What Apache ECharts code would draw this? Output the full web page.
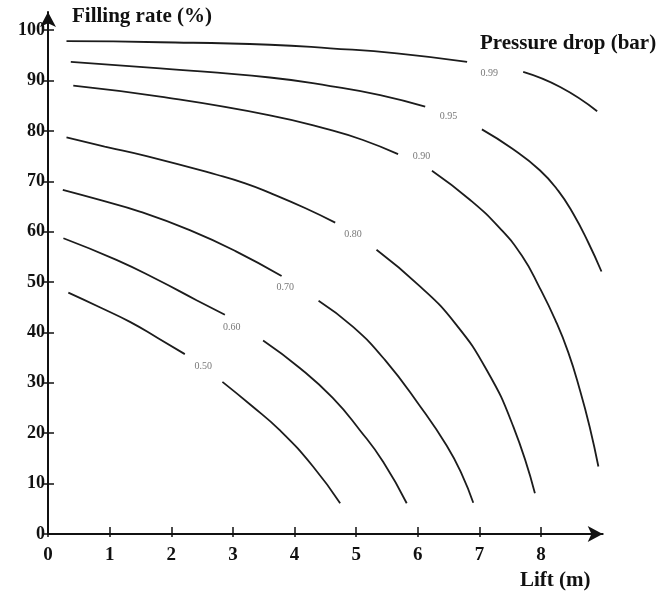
<!DOCTYPE html>
<html>
<head>
<meta charset="utf-8">
<script src="https://cdn.jsdelivr.net/npm/echarts@6/dist/echarts.min.js"></script>
<style>html,body{margin:0;padding:0;background:#fff}#c{width:656px;height:592px}</style>
</head>
<body>
<div id="c"></div>
<script>
// Tick labels
const xTicks = [0, 1, 2, 3, 4, 5, 6, 7, 8];
const yTicks = [0, 10, 20, 30, 40, 50, 60, 70, 80, 90, 100];

// Contour lines (Lift m, Filling rate %), split where the label sits
const c099a = [[0.30,97.8],[1.82,97.6],[3.60,97.1],[4.58,96.4],[5.66,95.4],[6.80,93.7]];
const c099b = [[7.71,91.7],[8.31,88.7],[8.91,83.9]];
const c095a = [[0.37,93.7],[1.82,92.4],[3.60,90.6],[4.58,88.9],[5.39,87.1],[6.12,84.8]];
const c095b = [[7.04,80.3],[7.53,76.5],[7.98,72.2],[8.28,68.1],[8.52,63.6],[8.76,58.0],[8.98,52.1]];
const c090a = [[0.41,89.0],[1.82,86.8],[3.60,83.1],[4.58,80.2],[5.11,78.2],[5.68,75.4]];
const c090b = [[6.23,72.1],[6.85,66.3],[7.33,60.7],[7.69,55.2],[7.98,48.8],[8.23,42.5],[8.44,36.1],[8.63,28.6],[8.79,21.2],[8.93,13.4]];
const c080a = [[0.30,78.7],[0.92,76.9],[1.60,75.0],[2.74,71.3],[3.20,69.6],[3.60,67.7],[4.17,64.7],[4.66,61.8]];
const c080b = [[5.33,56.4],[6.04,49.1],[6.60,41.9],[7.12,32.5],[7.55,21.3],[7.90,8.1]];
const c070a = [[0.24,68.3],[0.84,66.3],[1.49,64.0],[2.30,60.3],[3.05,56.1],[3.79,51.2]];
const c070b = [[4.39,46.3],[4.95,41.1],[5.47,34.5],[6.04,25.3],[6.47,17.5],[6.72,11.7],[6.90,6.2]];
const c060a = [[0.25,58.7],[1.11,54.4],[1.77,50.5],[2.41,46.4],[2.87,43.5]];
const c060b = [[3.49,38.4],[4.09,32.9],[4.62,27.0],[5.06,20.6],[5.44,14.3],[5.82,6.1]];
const c050a = [[0.33,47.9],[0.84,45.0],[1.33,42.1],[1.78,38.9],[2.22,35.7]];
const c050b = [[2.83,30.2],[3.29,25.6],[3.76,20.6],[4.30,13.4],[4.74,6.1]];

// Contour labels
const contourLabels = [
  [7.16, 91.5, '0.99'],
  [6.50, 82.8, '0.95'],
  [6.06, 75.0, '0.90'],
  [4.95, 59.5, '0.80'],
  [3.85, 49.0, '0.70'],
  [2.98, 41.1, '0.60'],
  [2.52, 33.3, '0.50']
];

const segments = [c099a,c099b,c095a,c095b,c090a,c090b,c080a,c080b,c070a,c070b,c060a,c060b,c050a,c050b];

const serif = '"Liberation Serif", "DejaVu Serif", serif';
const axisColor = '#111';

const chart = echarts.init(document.getElementById('c'), null, {renderer: 'canvas'});

const lineSeries = segments.map(seg => ({
  type: 'line',
  data: seg,
  smooth: 0.5,
  symbol: 'none',
  silent: true,
  lineStyle: {color: '#1c1c1c', width: 1.8},
  xAxisIndex: 0, yAxisIndex: 0
}));

const option = {
  animation: false,
  backgroundColor: '#fff',
  grid: {left: 48, top: 12, bottom: 58, right: 53.3, containLabel: false},
  xAxis: [{
    type: 'value', min: 0, max: 9, interval: 1,
    splitLine: {show: false},
    axisLine: {show: true, onZero: false, symbol: ['none', 'arrow'], symbolSize: [12, 15],
      lineStyle: {color: axisColor, width: 2}},
    axisTick: {show: true, length: 3, customValues: xTicks, lineStyle: {color: axisColor, width: 1.5}},
    axisLabel: {margin: 12, customValues: xTicks, color: '#111', fontFamily: serif, fontWeight: 'bold', fontSize: 19}
  }, {
    type: 'value', min: 0, max: 9, interval: 1, position: 'bottom',
    splitLine: {show: false},
    axisLine: {show: false, onZero: false},
    axisTick: {show: true, inside: true, length: 7, customValues: xTicks.slice(1), lineStyle: {color: axisColor, width: 1.5}},
    axisLabel: {show: false}
  }],
  yAxis: [{
    type: 'value', min: 0, max: 103.6, interval: 10,
    splitLine: {show: false},
    axisLine: {show: true, onZero: false, symbol: ['none', 'arrow'], symbolSize: [12, 15],
      lineStyle: {color: axisColor, width: 2}},
    axisTick: {show: true, length: 5, customValues: yTicks, lineStyle: {color: axisColor, width: 1.5}},
    axisLabel: {margin: 3, customValues: yTicks, color: '#111', fontFamily: serif, fontWeight: 'bold', fontSize: 18}
  }, {
    type: 'value', min: 0, max: 103.6, interval: 10, position: 'left',
    splitLine: {show: false},
    axisLine: {show: false, onZero: false},
    axisTick: {show: true, inside: true, length: 6, customValues: yTicks.slice(1), lineStyle: {color: axisColor, width: 1.5}},
    axisLabel: {show: false}
  }],
  graphic: [
    {type: 'text', left: 72, top: 6, style: {text: 'Filling rate (%)', font: 'bold 21px ' + serif, fill: '#111'}},
    {type: 'text', left: 480, top: 33, style: {text: 'Pressure drop (bar)', font: 'bold 21px ' + serif, fill: '#111'}},
    {type: 'text', left: 520, top: 570, style: {text: 'Lift (m)', font: 'bold 21px ' + serif, fill: '#111'}}
  ],
  series: lineSeries.concat([{
    type: 'scatter',
    data: contourLabels,
    symbolSize: 0,
    silent: true,
    label: {show: true, position: 'inside', formatter: p => p.data[2],
      fontFamily: serif, fontSize: 10, color: '#555'}
  }])
};
chart.setOption(option);
</script>
</body>
</html>
